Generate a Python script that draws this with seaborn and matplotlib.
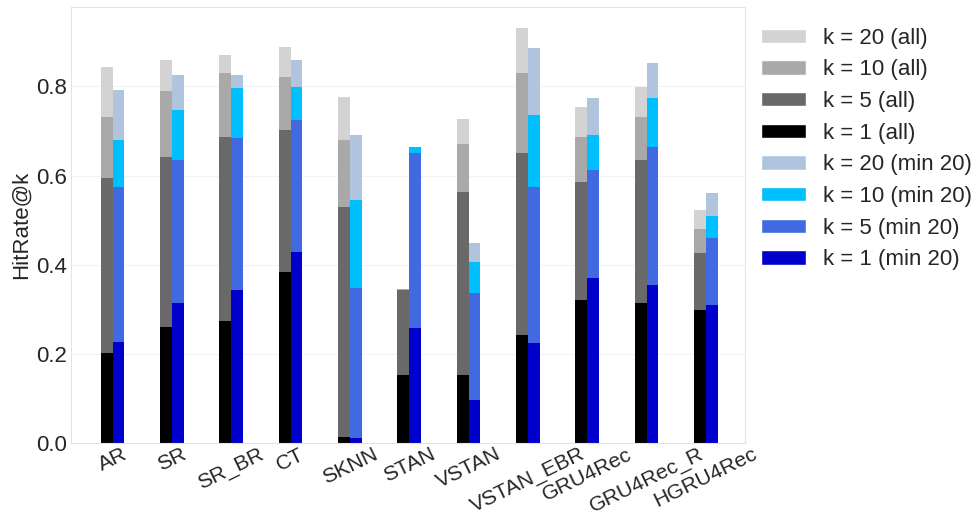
import matplotlib
matplotlib.use("Agg")
import matplotlib.pyplot as plt
from matplotlib.patches import Patch
import seaborn as sns
import pandas as pd

models = ["AR", "SR", "SR_BR", "CT", "SKNN", "STAN", "VSTAN", "VSTAN_EBR",
          "GRU4Rec", "GRU4Rec_R", "HGRU4Rec"]

# HitRate@k, all sessions
all_k1 = [0.202, 0.260, 0.273, 0.383, 0.014, 0.152, 0.152, 0.242, 0.321, 0.314, 0.298]
all_k5 = [0.594, 0.641, 0.686, 0.702, 0.529, 0.343, 0.563, 0.650, 0.586, 0.634, 0.426]
all_k10 = [0.731, 0.790, 0.830, 0.820, 0.680, 0.345, 0.670, 0.830, 0.686, 0.731, 0.480]
all_k20 = [0.843, 0.859, 0.870, 0.888, 0.775, 0.346, 0.726, 0.930, 0.753, 0.798, 0.522]

# HitRate@k, sessions with min 20 items
min_k1 = [0.227, 0.314, 0.343, 0.428, 0.012, 0.258, 0.096, 0.224, 0.370, 0.354, 0.309]
min_k5 = [0.574, 0.634, 0.684, 0.724, 0.348, 0.650, 0.336, 0.574, 0.612, 0.664, 0.461]
min_k10 = [0.679, 0.747, 0.796, 0.798, 0.545, 0.664, 0.406, 0.735, 0.691, 0.773, 0.509]
min_k20 = [0.791, 0.825, 0.825, 0.859, 0.690, 0.664, 0.448, 0.886, 0.773, 0.852, 0.561]

groups = ["all", "min 20"]
k_values = [20, 10, 5, 1]
gray_colors = {20: "#d3d3d3", 10: "#a9a9a9", 5: "#696969", 1: "#000000"}
blue_colors = {20: "#b0c4de", 10: "#00bfff", 5: "#4169e1", 1: "#0000cd"}

series_all = {1: all_k1, 5: all_k5, 10: all_k10, 20: all_k20}
series_min = {1: min_k1, 5: min_k5, 10: min_k10, 20: min_k20}

sns.set_style("whitegrid", {"grid.color": "#f3f3f3", "axes.edgecolor": "#e3e3e3"})
plt.rcParams["font.family"] = ["Liberation Sans", "DejaVu Sans"]
FS = 16

fig = plt.figure(figsize=(9.78, 5.27), dpi=100)
ax = fig.add_axes([0.0726, 0.159, 0.6892, 0.828])

for k in k_values:
    df = pd.DataFrame({
        "model": models * 2,
        "group": [groups[0]] * len(models) + [groups[1]] * len(models),
        "value": series_all[k] + series_min[k],
    })
    sns.barplot(data=df, x="model", y="value", hue="group", order=models,
                hue_order=groups,
                palette={groups[0]: gray_colors[k], groups[1]: blue_colors[k]},
                dodge=True, width=0.4, errorbar=None, legend=False,
                saturation=1, linewidth=0, ax=ax)

ax.set_xlim(-0.7, 10.66)
ax.set_ylim(0, 0.978)
ax.set_yticks([0.0, 0.2, 0.4, 0.6, 0.8])
ax.set_yticklabels(["0.0", "0.2", "0.4", "0.6", "0.8"], fontsize=FS)
ax.set_xticks(range(len(models)))
ax.set_xticklabels(models, rotation=26, ha="center", fontsize=15.3)
ax.set_xlabel("")
ax.set_ylabel("HitRate@k", fontsize=FS, labelpad=3)
ax.tick_params(axis="y", length=0, pad=3)
ax.tick_params(axis="x", length=0, pad=1)

handles = []
for k in k_values:
    handles.append(Patch(facecolor=gray_colors[k], label=f"k = {k} (all)"))
for k in k_values:
    handles.append(Patch(facecolor=blue_colors[k], label=f"k = {k} (min 20)"))
ax.legend(handles=handles, loc="upper left", bbox_to_anchor=(1.0, 0.988),
          frameon=False, fontsize=FS, handlelength=2.05, handleheight=0.6,
          labelspacing=0.48, handletextpad=0.75, borderaxespad=0.3)

fig.savefig("out.png", dpi=100)
